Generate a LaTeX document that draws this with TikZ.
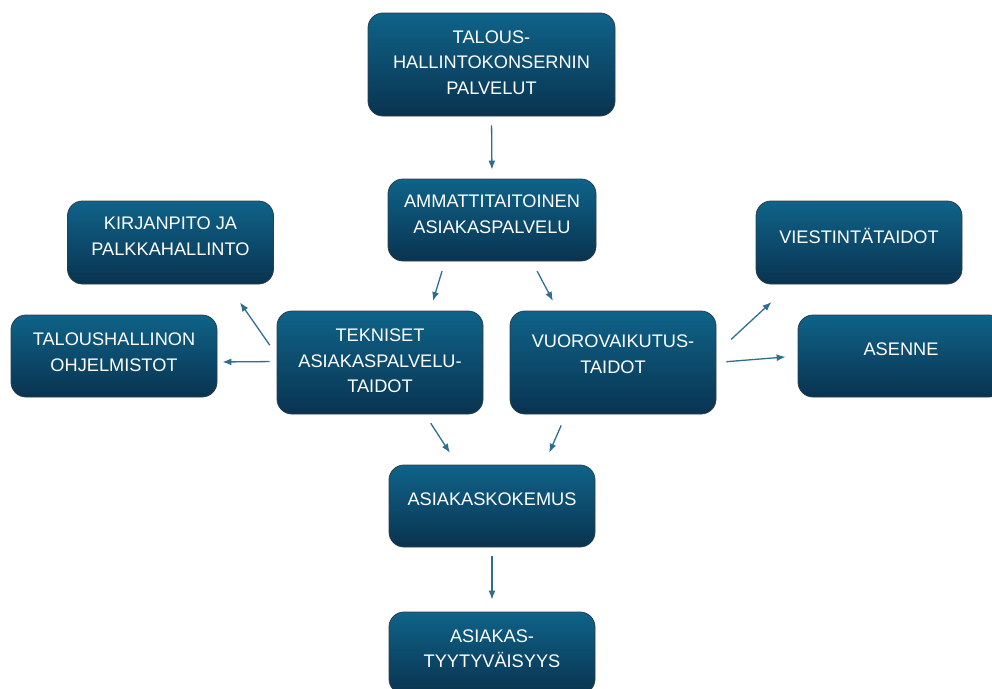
\documentclass[tikz,border=0pt]{standalone}
\usepackage{fontspec}
\setmainfont{Liberation Sans}
\usetikzlibrary{arrows.meta}
\definecolor{boxtop}{HTML}{0F6389}
\definecolor{boxbot}{HTML}{093350}
\definecolor{boxrim}{HTML}{2C3E4A}
\definecolor{linkcol}{HTML}{2E6F8F}
\tikzset{
  box/.style={draw=boxrim,line width=0.8pt,rounded corners=15pt,
    top color=boxtop,bottom color=boxbot,
    minimum width=206pt,minimum height=82pt,inner sep=0pt},
  lbl/.style={text=white,align=center,inner sep=0pt,
    font=\fontsize{18.2}{25.5}\selectfont},
  link/.style={draw=linkcol,line width=1.3pt,->},
}
\begin{document}
\begin{tikzpicture}[x=1pt,y=-1pt,>={Latex[length=9pt,width=7pt]}]
\useasboundingbox (0,0) rectangle (992,688);
%% boxes
\node (tal) at (491.5,64.5) [box,minimum width=247pt,minimum height=103pt] {};
\node (amm) at (492,220) [box,minimum width=208pt] {};
\node (kir) at (170.5,242.5) [box,minimum height=83pt] {};
\node (toh) at (114,356) [box] {};
\node (tek) at (380,362.5) [box,minimum height=103pt] {};
\node (vuo) at (613,362.5) [box,minimum height=103pt] {};
\node (vie) at (859,242.5) [box,minimum height=83pt] {};
\node (ase) at (901,356) [box] {};
\node (kok) at (492,506) [box] {};
\node (tyy) at (492,653) [box] {};
%% texts
\node (tal-t) at ([yshift=2pt]tal.center) [lbl] {TALOUS-\\HALLINTOKONSERNIN\\PALVELUT};
\node (amm-t) at ([yshift=6pt]amm.center) [lbl] {AMMATTITAITOINEN\\ASIAKASPALVELU};
\node (kir-t) at ([yshift=6.5pt]kir.center) [lbl] {KIRJANPITO JA\\PALKKAHALLINTO};
\node (toh-t) at ([yshift=4pt]toh.center) [lbl] {TALOUSHALLINON\\OHJELMISTOT};
\node (tek-t) at ([yshift=1.5pt]tek.center) [lbl] {TEKNISET\\ASIAKASPALVELU-\\TAIDOT};
\node (vuo-t) at ([yshift=8.5pt]vuo.center) [lbl] {VUOROVAIKUTUS-\\TAIDOT};
\node (vie-t) at ([yshift=6.5pt]vie.center) [lbl] {VIESTINTÄTAIDOT};
\node (ase-t) at ([yshift=7pt]ase.center) [lbl] {ASENNE};
\node (kok-t) at ([yshift=7pt]kok.center) [lbl] {ASIAKASKOKEMUS};
\node (tyy-t) at ([yshift=4.5pt]tyy.center) [lbl] {ASIAKAS-\\TYYTYVÄISYYS};
%% links
\draw [link,shorten <=9pt,shorten >=9pt] (tal.south) -- (amm.north);
\draw [link,shorten <=10pt,shorten >=10pt] ([xshift=-47pt]amm.south) -- ([xshift=50pt]tek.north);
\draw [link,shorten <=11pt,shorten >=11pt] ([xshift=40pt]amm.south) -- ([xshift=-55pt]vuo.north);
\draw [link,shorten <=12pt,shorten >=22pt] ([yshift=7.5pt]tek.west) -- ([xshift=57pt]kir.south);
\draw [link,shorten <=7pt,shorten >=5pt] ([yshift=1pt]tek.west) -- ([yshift=-6pt]toh.east);
\draw [link,shorten <=20pt,shorten >=26pt] ([yshift=9.5pt]vuo.east) -- ([xshift=-68.5pt]vie.south);
\draw [link,shorten <=10pt,shorten >=12pt] (vuo.east) -- (ase.west);
\draw [link,shorten <=10.5pt,shorten >=14pt] ([xshift=45pt]tek.south) -- ([xshift=-34.5pt]kok.north);
\draw [link,shorten <=12pt,shorten >=13pt] ([xshift=-47pt]vuo.south) -- ([xshift=52pt]kok.north);
\draw [link,shorten <=9pt,shorten >=12pt] (kok.south) -- (tyy.north);
%
\end{tikzpicture}
\end{document}
